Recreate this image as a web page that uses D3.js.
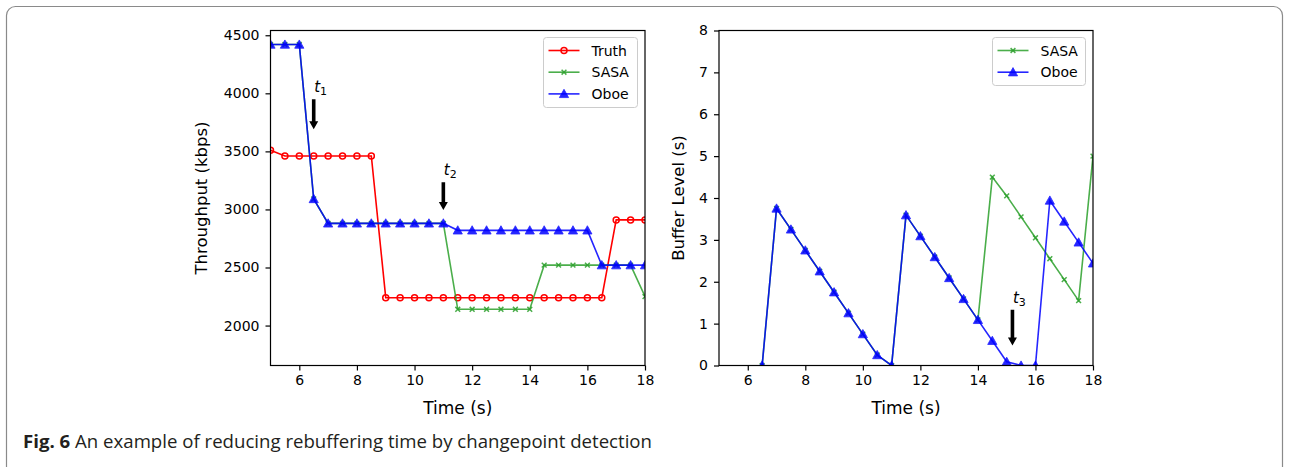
<!DOCTYPE html>
<html><head><meta charset="utf-8">
<script src="https://cdn.jsdelivr.net/npm/d3@7"></script>
<style>
html,body{margin:0;padding:0;background:#fff;}
</style></head>
<body>
<svg id="c" width="1289" height="467" font-family="DejaVu Sans, sans-serif"></svg>
<script>
// ---------- data ----------
const timeLeft = [5,5.5,6,6.5,7,7.5,8,8.5,9,9.5,10,10.5,11,11.5,12,12.5,13,13.5,14,14.5,15,15.5,16,16.5,17,17.5,18];
const truthKbps = [3510,3460,3460,3460,3460,3460,3460,3460,2240,2240,2240,2240,2240,2240,2240,2240,2240,2240,2240,2240,2240,2240,2240,2240,2910,2910,2910];
const sasaKbps  = [4420,4420,4420,3090,2880,2880,2880,2880,2880,2880,2880,2880,2880,2140,2140,2140,2140,2140,2140,2520,2520,2520,2520,2520,2520,2520,2250];
const oboeKbps  = [4420,4420,4420,3090,2880,2880,2880,2880,2880,2880,2880,2880,2880,2820,2820,2820,2820,2820,2820,2820,2820,2820,2820,2520,2520,2520,2520];

const timeRight = [6.5,7,7.5,8,8.5,9,9.5,10,10.5,11,11.5,12,12.5,13,13.5,14,14.5,15,15.5,16,16.5,17,17.5,18];
const sasaBuffer = [0,3.75,3.25,2.75,2.25,1.75,1.25,0.75,0.25,0,3.59,3.09,2.59,2.09,1.59,1.09,4.5,4.05,3.55,3.05,2.55,2.05,1.55,5.0];
const oboeBuffer = [0,3.75,3.25,2.75,2.25,1.75,1.25,0.75,0.25,0,3.59,3.09,2.59,2.09,1.59,1.09,0.59,0.09,0,0,3.94,3.44,2.94,2.44];

const xTicks = [6,8,10,12,14,16,18];
const yTicksLeft = [2000,2500,3000,3500,4000,4500];
const yTicksRight = [0,1,2,3,4,5,6,7,8];
const leftLegend = ["Truth","SASA","Oboe"];
const rightLegend = ["SASA","Oboe"];
// annotations: [x, arrow top, arrow tip, label subscript]
const annLeft = [[6.5,3950,3690,"1"],[11,3235,2995,"2"]];
const annRight = [[15.2,1.33,0.48,"3"]];

const COL = {Truth:"#ff0000", SASA:"#2ca02c", Oboe:"#0000ff"};
const MARK = {Truth:"circle", SASA:"x", Oboe:"tri"};

const svg = d3.select("#c");

// frame
svg.append("rect").attr("x",6.5).attr("y",6.5).attr("width",1276).attr("height",480)
  .attr("rx",9).attr("fill","none").attr("stroke","#8a8a8a").attr("stroke-width",1.2);

function drawMarker(g, type, color, x, y){
  if(type==="circle"){
    g.append("circle").attr("cx",x).attr("cy",y).attr("r",3).attr("fill","none").attr("stroke",color).attr("stroke-width",1.5);
  } else if(type==="x"){
    const s=2.4;
    g.append("path").attr("d",`M${x-s},${y-s}L${x+s},${y+s}M${x-s},${y+s}L${x+s},${y-s}`).attr("stroke",color).attr("stroke-width",1.5);
  } else {
    const s=4.6;
    g.append("path").attr("d",`M${x},${y-s}L${x+s},${y+s*0.8}L${x-s},${y+s*0.8}Z`).attr("fill",color).attr("stroke",color).attr("stroke-width",0.8);
  }
}

function panel(opts){
  const {x0,x1,y0,y1,yDomain,yTicks,series,ylabel,legend,legBox,ann,id} = opts;
  const x = d3.scaleLinear().domain([5,18]).range([x0,x1]);
  const y = d3.scaleLinear().domain(yDomain).range([y1,y0]);
  const g = svg.append("g");
  g.append("clipPath").attr("id",id).append("rect").attr("x",x0).attr("y",y0).attr("width",x1-x0).attr("height",y1-y0);
  const pg = g.append("g").attr("clip-path",`url(#${id})`);
  series.forEach(s=>{
    const line = d3.line().x((d,i)=>x(s.t[i])).y(d=>y(d));
    pg.append("path").datum(s.v).attr("d",line).attr("fill","none").attr("stroke",COL[s.name]).attr("stroke-width",1.6).attr("opacity",s.name==="Truth"?1:0.85);
    const mg = pg.append("g").attr("opacity",s.name==="Truth"?1:0.85);
    s.v.forEach((v,i)=>drawMarker(mg, MARK[s.name], COL[s.name], x(s.t[i]), y(v)));
  });
  // axes
  const ax = g.append("g").attr("transform",`translate(0,${y1})`).call(d3.axisBottom(x).tickValues(xTicks).tickFormat(d3.format("d")).tickSize(5).tickPadding(5));
  const ay = g.append("g").attr("transform",`translate(${x0},0)`).call(d3.axisLeft(y).tickValues(yTicks).tickFormat(d3.format("d")).tickSize(5).tickPadding(6));
  [ax,ay].forEach(a=>{a.select(".domain").remove(); a.attr("font-family",null); a.selectAll("text").attr("font-size",14).attr("fill","#000"); a.selectAll("line").attr("stroke","#000").attr("stroke-width",1.2);});
  g.append("rect").attr("x",x0).attr("y",y0).attr("width",x1-x0).attr("height",y1-y0).attr("fill","none").attr("stroke","#000").attr("stroke-width",1.2);
  // labels
  g.append("text").attr("x",(x0+x1)/2).attr("y",414).attr("text-anchor","middle").attr("font-size",17).text("Time (s)");
  g.append("text").attr("transform",`translate(${opts.ylx},${(y0+y1)/2}) rotate(-90)`).attr("text-anchor","middle").attr("font-size",16.5).text(ylabel);
  // annotations
  ann.forEach(a=>{
    const ax_ = x(a[0]), yt=y(a[1]), yb=y(a[2]);
    g.append("path").attr("d",`M${ax_-1.8},${yt}L${ax_+1.8},${yt}L${ax_+1.8},${yb-8}L${ax_+4.5},${yb-8}L${ax_},${yb}L${ax_-4.5},${yb-8}L${ax_-1.8},${yb-8}Z`).attr("fill","#000");
    const t = g.append("text").attr("x",ax_+0.5).attr("y",yt-7).attr("font-size",15);
    t.append("tspan").attr("font-style","italic").text("t");
    t.append("tspan").attr("font-size",11).attr("dy",3).text(a[3]);
  });
  // legend
  const lg = g.append("g");
  lg.append("rect").attr("x",legBox[0]).attr("y",legBox[1]).attr("width",legBox[2]).attr("height",legBox[3]).attr("rx",3)
    .attr("fill","#fff").attr("fill-opacity",0.8).attr("stroke","#cccccc").attr("stroke-width",1);
  legend.forEach((n,i)=>{
    const yy = legBox[1]+13+i*21.7;
    const lx = legBox[0]+5;
    lg.append("line").attr("x1",lx).attr("x2",lx+31).attr("y1",yy).attr("y2",yy).attr("stroke",COL[n]).attr("stroke-width",1.6).attr("opacity",n==="Truth"?1:0.85);
    const mg = lg.append("g").attr("opacity",n==="Truth"?1:0.85);
    drawMarker(mg, MARK[n], COL[n], lx+15.5, yy);
    lg.append("text").attr("x",lx+43).attr("y",yy+5).attr("font-size",14).text(n);
  });
}

panel({id:"cl",x0:270.5,x1:645,y0:30.5,y1:365.5,yDomain:[1656,4541],yTicks:yTicksLeft,ylx:207,
  ylabel:"Throughput (kbps)",legend:leftLegend,legBox:[543.5,37.5,94,70],ann:annLeft,
  series:[{name:"Truth",t:timeLeft,v:truthKbps},{name:"SASA",t:timeLeft,v:sasaKbps},{name:"Oboe",t:timeLeft,v:oboeKbps}]});

panel({id:"cr",x0:719,x1:1093,y0:30.5,y1:365.5,yDomain:[0,8],yTicks:yTicksRight,ylx:684,
  ylabel:"Buffer Level (s)",legend:rightLegend,legBox:[992.5,37.5,93,48],ann:annRight,
  series:[{name:"SASA",t:timeRight,v:sasaBuffer},{name:"Oboe",t:timeRight,v:oboeBuffer}]});

// caption
const cap = svg.append("text").attr("x",23).attr("y",448).attr("font-size",18).attr("fill","#231f20")
  .attr("font-family","'Liberation Sans Narrow','Open Sans',sans-serif")
  .attr("textLength",629).attr("lengthAdjust","spacingAndGlyphs");
cap.append("tspan").attr("font-weight","bold").text("Fig. 6");
cap.append("tspan").text(" An example of reducing rebuffering time by changepoint detection");
</script>
</body></html>
